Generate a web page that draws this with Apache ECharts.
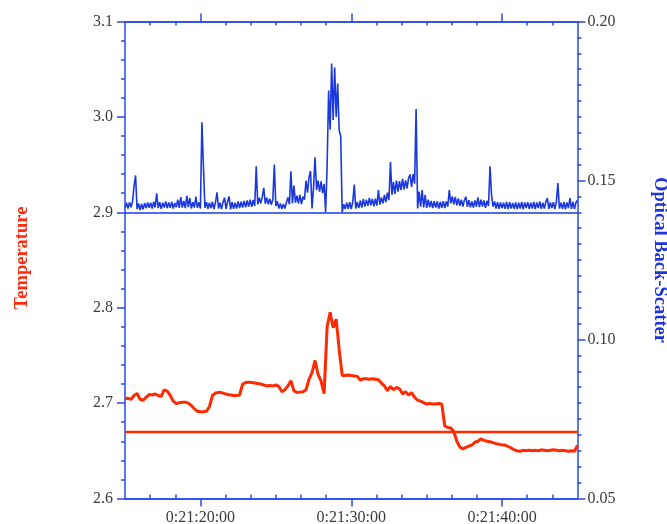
<!DOCTYPE html>
<html><head><meta charset="utf-8">
<script src="https://cdn.jsdelivr.net/npm/echarts@6/dist/echarts.min.js"></script>
<style>html,body{margin:0;padding:0;background:#fff}#c{width:667px;height:524px}</style>
</head><body><div id="c"></div>
<script>
// time in seconds past 0:21:00
const timeStart = 15;
const scatterStep = 0.1;
const tempStep = 0.2;

const backScatter = [
0.1414,0.1430,0.1412,0.1432,0.1416,0.1434,0.1482,0.1516,0.1410,0.1428,
0.1407,0.1426,0.1409,0.1429,0.1413,0.1431,0.1414,0.1430,0.1412,0.1433,
0.1415,0.1460,0.1413,0.1432,0.1411,0.1430,0.1415,0.1434,0.1413,0.1431,
0.1414,0.1433,0.1412,0.1429,0.1416,0.1440,0.1414,0.1448,0.1415,0.1436,
0.1413,0.1452,0.1416,0.1445,0.1412,0.1432,0.1415,0.1449,0.1414,0.1431,
0.1412,0.1683,0.1545,0.1414,0.1432,0.1411,0.1430,0.1413,0.1433,0.1410,
0.1431,0.1463,0.1412,0.1430,0.1410,0.1432,0.1446,0.1411,0.1433,0.1450,
0.1409,0.1432,0.1411,0.1430,0.1412,0.1434,0.1413,0.1433,0.1415,0.1436,
0.1416,0.1437,0.1418,0.1440,0.1417,0.1439,0.1420,0.1545,0.1425,0.1446,
0.1428,0.1449,0.1477,0.1427,0.1446,0.1425,0.1443,0.1424,0.1440,0.1550,
0.1420,0.1434,0.1412,0.1428,0.1410,0.1426,0.1412,0.1430,0.1447,0.1425,
0.1529,0.1428,0.1484,0.1430,0.1452,0.1428,0.1455,0.1426,0.1449,0.1440,
0.1500,0.1462,0.1510,0.1530,0.1412,0.1478,0.1573,0.1470,0.1500,0.1465,
0.1497,0.1460,0.1489,0.1400,0.1545,0.1783,0.1660,0.1868,0.1690,0.1855,
0.1700,0.1805,0.1657,0.1640,0.1400,0.1425,0.1410,0.1430,0.1411,0.1432,
0.1410,0.1433,0.1487,0.1412,0.1432,0.1413,0.1437,0.1415,0.1442,0.1418,
0.1440,0.1420,0.1445,0.1422,0.1442,0.1419,0.1443,0.1421,0.1470,0.1424,
0.1447,0.1428,0.1455,0.1432,0.1462,0.1438,0.1558,0.1455,0.1495,0.1458,
0.1500,0.1465,0.1498,0.1470,0.1505,0.1472,0.1500,0.1475,0.1508,0.1519,
0.1480,0.1520,0.1490,0.1725,0.1412,0.1465,0.1418,0.1470,0.1415,0.1455,
0.1414,0.1440,0.1416,0.1436,0.1413,0.1435,0.1415,0.1434,0.1412,0.1433,
0.1414,0.1435,0.1413,0.1434,0.1418,0.1470,0.1428,0.1450,0.1425,0.1448,
0.1422,0.1444,0.1420,0.1440,0.1418,0.1438,0.1449,0.1417,0.1438,0.1416,
0.1434,0.1415,0.1437,0.1418,0.1447,0.1416,0.1440,0.1418,0.1437,0.1414,
0.1436,0.1420,0.1545,0.1455,0.1418,0.1434,0.1412,0.1432,0.1411,0.1431,
0.1413,0.1430,0.1411,0.1433,0.1410,0.1432,0.1412,0.1429,0.1411,0.1431,
0.1410,0.1430,0.1412,0.1433,0.1409,0.1431,0.1413,0.1432,0.1411,0.1430,
0.1412,0.1433,0.1410,0.1431,0.1413,0.1434,0.1411,0.1430,0.1412,0.1432,
0.1445,0.1411,0.1431,0.1413,0.1432,0.1410,0.1433,0.1492,0.1412,0.1430,
0.1411,0.1432,0.1409,0.1431,0.1413,0.1445,0.1411,0.1433,0.1410,0.1431,
0.1438
];

const temperature = [
2.7045,2.7050,2.7040,2.7080,2.7100,
2.7040,2.7030,2.7060,2.7090,2.7085,
2.7095,2.7080,2.7070,2.7140,2.7125,
2.7080,2.7020,2.6995,2.7005,2.7010,
2.7010,2.7000,2.6975,2.6940,2.6915,
2.6910,2.6910,2.6915,2.6965,2.7080,
2.7105,2.7110,2.7110,2.7100,2.7090,
2.7085,2.7080,2.7080,2.7085,2.7200,
2.7215,2.7220,2.7215,2.7210,2.7205,
2.7200,2.7190,2.7180,2.7185,2.7180,
2.7190,2.7175,2.7120,2.7140,2.7180,
2.7235,2.7130,2.7110,2.7115,2.7120,
2.7140,2.7250,2.7320,2.7447,2.7300,
2.7230,2.7100,2.7800,2.7953,2.7790,
2.7880,2.7560,2.7290,2.7290,2.7295,
2.7290,2.7285,2.7280,2.7240,2.7255,
2.7255,2.7250,2.7255,2.7250,2.7245,
2.7210,2.7180,2.7130,2.7175,2.7140,
2.7165,2.7150,2.7095,2.7120,2.7085,
2.7110,2.7060,2.7030,2.7020,2.7005,
2.6990,2.6995,2.6990,2.6990,2.6995,
2.6990,2.6760,2.6745,2.6740,2.6700,
2.6600,2.6540,2.6520,2.6535,2.6550,
2.6560,2.6590,2.6600,2.6625,2.6610,
2.6600,2.6595,2.6585,2.6575,2.6570,
2.6560,2.6560,2.6545,2.6530,2.6510,
2.6500,2.6495,2.6505,2.6500,2.6505,
2.6500,2.6505,2.6500,2.6510,2.6505,
2.6500,2.6505,2.6510,2.6505,2.6500,
2.6505,2.6500,2.6495,2.6500,2.6495,
2.6556
];

const tempRefLevel = 2.667;
const scatterRefLevel = 0.14;
const xMajorTicks = [20, 30, 40];
const xMinorTicks = [16.667,18.333,21.667,23.333,25,26.667,28.333,31.667,33.333,35,36.667,38.333,41.667,43.333];

const BLUE_AX = '#2a48e6';
const BLUE = '#1a38e0';
const RED = '#ff2a00';
const LABEL = '#3a3a3a';
const FONT = '"Liberation Serif", "DejaVu Serif", serif';

function fmtTime(v) {
  const s = Math.round(v);
  return '0:21:' + (s < 10 ? '0' : '') + s + ':00';
}

const scatterData = backScatter.map((v, i) => [+(timeStart + i * scatterStep).toFixed(3), v]);
const tempData = temperature.map((v, i) => [+(timeStart + i * tempStep).toFixed(3), v]);

const axLine = { show: true, onZero: false, lineStyle: { color: BLUE_AX, width: 1.5 } };
function xAx(pos, ticks, inside, len, labels) {
  return {
    type: 'value', min: 15, max: 45, position: pos,
    axisLine: axLine,
    axisTick: { show: true, customValues: ticks, inside: inside, length: len, lineStyle: { color: BLUE_AX, width: 1.5 } },
    axisLabel: labels ? { show: true, customValues: ticks, formatter: fmtTime, color: LABEL, fontFamily: FONT, fontSize: 16, margin: 11 } : { show: false },
    splitLine: { show: false }, minorTick: { show: false }, minorSplitLine: { show: false }
  };
}

const chart = echarts.init(document.getElementById('c'), null, { renderer: 'canvas' });
chart.setOption({
  animation: false,
  backgroundColor: '#fff',
  grid: { left: 125, top: 21.5, width: 452.5, height: 477, containLabel: false, outerBoundsMode: 'none', show: false },
  xAxis: [
    xAx('bottom', xMajorTicks, false, 8, true),
    xAx('bottom', xMinorTicks, true, 4, false),
    xAx('top', xMajorTicks, false, 8, false),
    xAx('top', xMinorTicks, true, 4, false)
  ],
  yAxis: [
    {
      type: 'value', position: 'left', min: 2.6, max: 3.1, interval: 0.1,
      axisLine: axLine,
      axisTick: { show: true, inside: false, length: 8, lineStyle: { color: BLUE_AX, width: 1.5 } },
      minorTick: { show: true, splitNumber: 5, length: 4, lineStyle: { color: BLUE_AX, width: 1.5 } },
      axisLabel: { formatter: v => v.toFixed(1), color: LABEL, fontFamily: FONT, fontSize: 16, margin: 12 },
      splitLine: { show: false }, minorSplitLine: { show: false }
    },
    {
      type: 'value', position: 'right', min: 0.05, max: 0.2, interval: 0.05,
      axisLine: axLine,
      axisTick: { show: true, inside: false, length: 8, lineStyle: { color: BLUE_AX, width: 1.5 } },
      minorTick: { show: true, splitNumber: 10, length: 4, lineStyle: { color: BLUE_AX, width: 1.5 } },
      axisLabel: { formatter: v => v.toFixed(2), color: LABEL, fontFamily: FONT, fontSize: 16, margin: 10 },
      splitLine: { show: false }, minorSplitLine: { show: false }
    }
  ],
  series: [
    {
      type: 'line', name: 'Optical Back-Scatter', xAxisIndex: 0, yAxisIndex: 1,
      data: scatterData, showSymbol: false, symbol: 'none',
      lineStyle: { color: BLUE, width: 1.6 }, itemStyle: { color: BLUE },
      markLine: { silent: true, symbol: ['none', 'none'], label: { show: false },
        lineStyle: { type: 'solid', color: BLUE, width: 1.5 }, data: [{ yAxis: scatterRefLevel }] }
    },
    {
      type: 'line', name: 'Temperature', xAxisIndex: 0, yAxisIndex: 0,
      data: tempData, showSymbol: false, symbol: 'none',
      lineStyle: { color: RED, width: 3 }, itemStyle: { color: RED },
      markLine: { silent: true, symbol: ['none', 'none'], label: { show: false },
        lineStyle: { type: 'solid', color: RED, width: 2.4 }, data: [{ yAxis: tempRefLevel }] }
    }
  ],
  graphic: [
    { type: 'text', x: 22, y: 258, rotation: Math.PI / 2,
      style: { text: 'Temperature', fill: '#ff2a10', font: 'bold 18.5px ' + FONT, align: 'center', verticalAlign: 'middle' } },
    { type: 'text', x: 660, y: 260, rotation: -Math.PI / 2,
      style: { text: 'Optical Back-Scatter', fill: '#1f34d6', font: 'bold 18.5px ' + FONT, align: 'center', verticalAlign: 'middle' } }
  ]
});
</script></body></html>
